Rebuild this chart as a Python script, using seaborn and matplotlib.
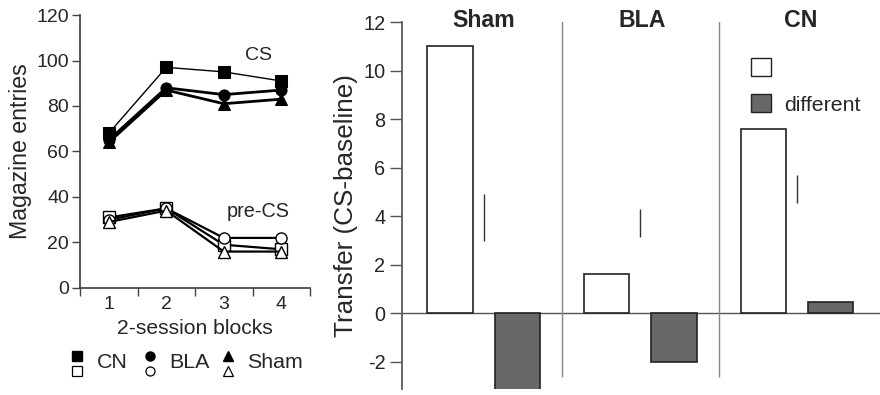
import matplotlib
matplotlib.use("Agg")
import matplotlib.pyplot as plt
import seaborn as sns
import pandas as pd

# datos del panel izquierdo (entradas al comedero por bloque)
blocks = [1, 2, 3, 4]
groups = ["CN", "BLA", "Sham"]
group_markers = {"CN": "s", "BLA": "o", "Sham": "^"}
cs_values = {
    "CN": [68, 97, 95, 91],
    "BLA": [65, 88, 85, 87],
    "Sham": [64, 87, 81, 83],
}
precs_values = {
    "CN": [31, 35, 19, 17],
    "BLA": [30, 35, 22, 22],
    "Sham": [29, 34, 16, 16],
}
cs_widths = {"CN": 1.0, "BLA": 2.0, "Sham": 2.0}

# datos del panel derecho (transferencia)
lesion_groups = ["Sham", "BLA", "CN"]
outcomes = ["same", "different"]
legend_labels = ["", "different"]
transfer_same = [11.0, 1.6, 7.6]
transfer_diff = [-3.3, -2.0, 0.45]
err_low = [2.95, 3.15, 4.55]
err_high = [4.9, 4.3, 5.7]

sns.set_theme(style="ticks")
plt.rcParams["font.family"] = ["Liberation Sans", "DejaVu Sans"]
plt.rcParams["axes.unicode_minus"] = False

fig = plt.figure(figsize=(8.8, 3.95), dpi=100)
ax1 = fig.add_axes([0.0909, 0.271, 0.2614, 0.691])
ax2 = fig.add_axes([0.457, 0.0142, 0.543, 0.930])

# --- panel izquierdo ---
for g in groups:
    df_cs = pd.DataFrame({"block": blocks, "entries": cs_values[g]})
    sns.lineplot(data=df_cs, x="block", y="entries", ax=ax1, color="black",
                 linewidth=cs_widths[g], marker=group_markers[g], markersize=8,
                 markerfacecolor="black", markeredgecolor="black")
    df_pre = pd.DataFrame({"block": blocks, "entries": precs_values[g]})
    sns.lineplot(data=df_pre, x="block", y="entries", ax=ax1, color="black",
                 linewidth=1.6, marker=group_markers[g], markersize=8,
                 markerfacecolor="white", markeredgecolor="black", markeredgewidth=1)

ax1.set_xlim(0.5, 4.5)
ax1.set_ylim(0, 120)
ax1.set_yticks(range(0, 121, 20))
ax1.set_xticks(blocks)
ax1.set_xticks([0.5, 1.5, 2.5, 3.5, 4.5], minor=True)
ax1.tick_params(axis="x", which="major", length=0, labelsize=14, pad=6)
ax1.tick_params(axis="x", which="minor", length=6, width=1, color="#444444")
ax1.tick_params(axis="y", length=6, width=1, color="#444444", labelsize=14, pad=2)
ax1.set_xlabel("2-session blocks", fontsize=15.2, labelpad=4)
ax1.set_ylabel("Magazine entries", fontsize=16.7, labelpad=3)
for s in ["top", "right"]:
    ax1.spines[s].set_visible(False)
for s in ["left", "bottom"]:
    ax1.spines[s].set_color("#444444")
ax1.text(3.6, 102, "CS", fontsize=14, ha="center", va="center")
ax1.text(3.6, 33.5, "pre-CS", fontsize=14.3, ha="center", va="center")

# leyenda de símbolos bajo el panel izquierdo
leg_x = [0.088, 0.17, 0.259]
for g, x in zip(groups, leg_x):
    fig.lines.append(plt.Line2D([x], [1 - 356 / 395], transform=fig.transFigure,
                                marker=group_markers[g], markersize=6.5, color="black",
                                markerfacecolor="black", linestyle="none"))
    fig.lines.append(plt.Line2D([x], [1 - 371 / 395], transform=fig.transFigure,
                                marker=group_markers[g], markersize=6.5, color="black",
                                markerfacecolor="white", markeredgewidth=0.9,
                                linestyle="none"))
    fig.text(x + 0.022, 1 - 363 / 395, g, fontsize=15.4, ha="left", va="center")

# --- panel derecho ---
df_t = pd.DataFrame({
    "group": lesion_groups * 2,
    "outcome": [outcomes[0]] * 3 + [outcomes[1]] * 3,
    "transfer": transfer_same + transfer_diff,
})
pal = {"same": "white", "different": "#686868"}
sns.barplot(data=df_t, x="group", y="transfer", hue="outcome", order=lesion_groups,
            hue_order=outcomes, palette=pal, edgecolor="#222222", linewidth=1.2,
            width=0.86, gap=0.33, ax=ax2, legend=False, saturation=1)

ax2.vlines(range(len(lesion_groups)), err_low, err_high, color="#333333", linewidth=1)
ax2.axhline(0, color="#555555", linewidth=1, zorder=0)
ax2.vlines([0.5, 1.5], -2.65, 12.1, color="#888888", linewidth=1)

ax2.set_xlim(-0.52, 2.53)
ax2.set_ylim(-3.15, 12)
ax2.set_yticks(range(-2, 13, 2))
ax2.set_xticks([])
ax2.set_xlabel("")
ax2.set_ylabel("Transfer (CS-baseline)", fontsize=18.8, labelpad=4)
ax2.tick_params(axis="y", length=9, width=1, color="#555555", labelsize=14.3, pad=3)
for s in ["top", "right", "bottom"]:
    ax2.spines[s].set_visible(False)
ax2.spines["left"].set_color("#555555")

title_dx = [0.0, 0.01, 0.025]
for i, g in enumerate(lesion_groups):
    ax2.text(i + title_dx[i], 11.8, g, fontsize=16.7, fontweight="bold",
             ha="center", va="baseline")

handles = [plt.Rectangle((0, 0), 1, 1, facecolor=pal[o], edgecolor="#222222") for o in outcomes]
ax2.legend(handles, legend_labels, loc="upper left", bbox_to_anchor=(0.69, 0.955),
           frameon=False, fontsize=15.3, handlelength=0.95, handleheight=0.95,
           labelspacing=0.75, handletextpad=0.6)

fig.savefig("out.png", dpi=100)
